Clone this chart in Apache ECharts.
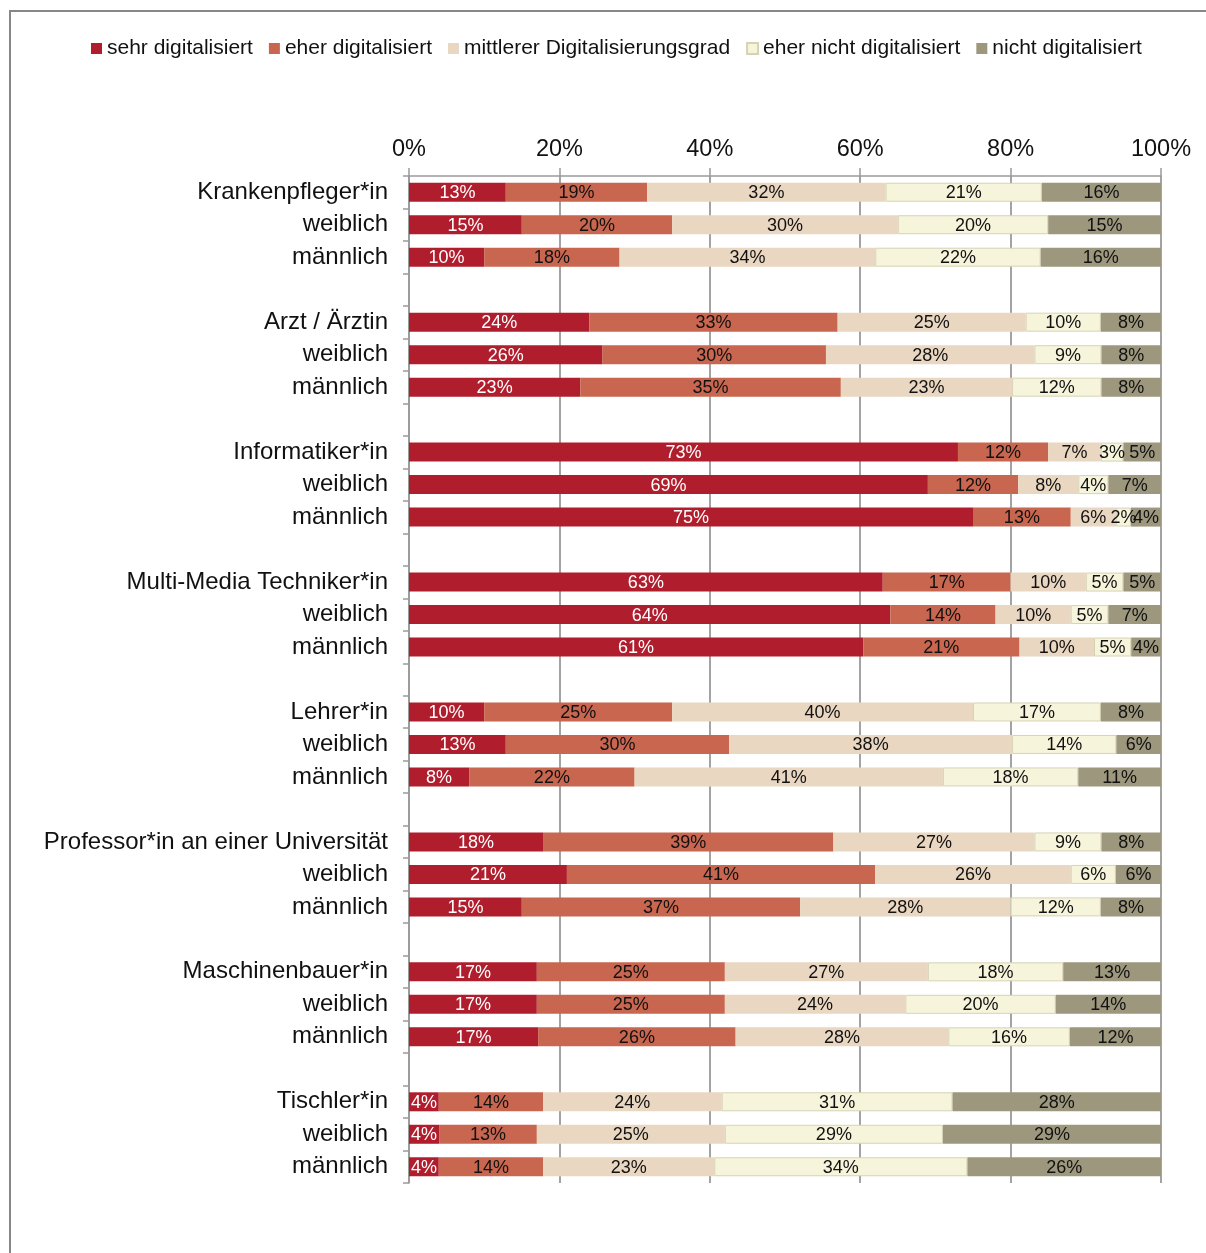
<!DOCTYPE html>
<html><head><meta charset="utf-8">
<script src="https://cdn.jsdelivr.net/npm/echarts@6/dist/echarts.min.js"></script>
<style>html,body{margin:0;padding:0;background:#fff}#c{width:1206px;height:1253px}</style>
</head><body><div id="c"></div>
<script>
// Row labels (null = empty spacer row between groups)
const rowLabels = [
  'Krankenpfleger*in','weiblich','männlich',null,
  'Arzt / Ärztin','weiblich','männlich',null,
  'Informatiker*in','weiblich','männlich',null,
  'Multi-Media Techniker*in','weiblich','männlich',null,
  'Lehrer*in','weiblich','männlich',null,
  'Professor*in an einer Universität','weiblich','männlich',null,
  'Maschinenbauer*in','weiblich','männlich',null,
  'Tischler*in','weiblich','männlich'
];
const seriesNames = ['sehr digitalisiert','eher digitalisiert','mittlerer Digitalisierungsgrad','eher nicht digitalisiert','nicht digitalisiert'];
// values in percent, per row (null rows are spacers)
const sehr      = [13,15,10,null,24,26,23,null,73,69,75,null,63,64,61,null,10,13,8,null,18,21,15,null,17,17,17,null,4,4,4];
const eher      = [19,20,18,null,33,30,35,null,12,12,13,null,17,14,21,null,25,30,22,null,39,41,37,null,25,25,26,null,14,13,14];
const mittlerer = [32,30,34,null,25,28,23,null,7,8,6,null,10,10,10,null,40,38,41,null,27,26,28,null,27,24,28,null,24,25,23];
const eherNicht = [21,20,22,null,10,9,12,null,3,4,2,null,5,5,5,null,17,14,18,null,9,6,12,null,18,20,16,null,31,29,34];
const nicht     = [16,15,16,null,8,8,8,null,5,7,4,null,5,7,4,null,8,6,11,null,8,6,8,null,13,14,12,null,28,29,26];
const xTicks = [0,20,40,60,80,100];

const raw = [sehr, eher, mittlerer, eherNicht, nicht];
const colors = ['#B01E2D','#C8664F','#E9D7C1','#F6F4DB','#9C977D'];
const borders = [null,null,null,'#D6D3B5',null];
const labelColors = ['#ffffff','#111','#111','#111','#111'];
const FONT = 'Liberation Sans, Arial, sans-serif';

const cats = rowLabels.map((l,i)=>'r'+i);
const sums = rowLabels.map((l,i)=> l===null ? null : raw.reduce((s,a)=>s+a[i],0));

const series = raw.map((arr,k)=>({
  name: seriesNames[k],
  type: 'bar',
  stack: 'total',
  barWidth: 19,
  itemStyle: Object.assign({color: colors[k]}, borders[k] ? {borderColor: borders[k], borderWidth: 1} : {}),
  label: {
    show: true, position: 'inside', color: labelColors[k], offset: [0, 1],
    fontSize: 18, fontFamily: FONT,
    formatter: p => arr[p.dataIndex] + '%'
  },
  data: arr.map((v,i)=> v===null ? '-' : v / sums[i] * 100),
  silent: true
}));

const chart = echarts.init(document.getElementById('c'), null, {renderer:'canvas'});
chart.setOption({
  animation: false,
  backgroundColor: '#fff',
  graphic: [{
    type: 'rect', shape: {x: 10, y: 11, width: 1300, height: 1400},
    style: {fill: 'none', stroke: '#878787', lineWidth: 2}, silent: true
  }],
  legend: {
    left: 86, top: 33,
    icon: 'rect', itemWidth: 11, itemHeight: 11, itemGap: 16,
    textStyle: {fontSize: 21, fontFamily: FONT, color: '#111'},
    data: seriesNames
  },
  grid: {left: 409, right: 45, top: 176, bottom: 70, containLabel: false},
  xAxis: {
    type: 'value', position: 'top', min: xTicks[0], max: xTicks[xTicks.length-1], interval: 20,
    axisLine: {show: true, lineStyle: {color: '#9a9a9a', width: 1.5}},
    axisTick: {show: true, length: 8, lineStyle: {color: '#9a9a9a', width: 1.5}},
    splitLine: {show: true, lineStyle: {color: '#a3a3a3', width: 2}},
    axisLabel: {formatter: '{value}%', fontSize: 23.5, fontFamily: FONT, color: '#111', margin: 14}
  },
  yAxis: {
    type: 'category', inverse: true, data: cats,
    axisLine: {show: true, lineStyle: {color: '#9a9a9a', width: 1.5}},
    axisTick: {show: true, length: 6, interval: 0, lineStyle: {color: '#9a9a9a', width: 1.5}},
    axisLabel: {
      interval: 0, fontSize: 24, fontFamily: FONT, color: '#111', margin: 21,
      formatter: (v, i) => rowLabels[i] || ''
    }
  },
  series: series
});
</script></body></html>
